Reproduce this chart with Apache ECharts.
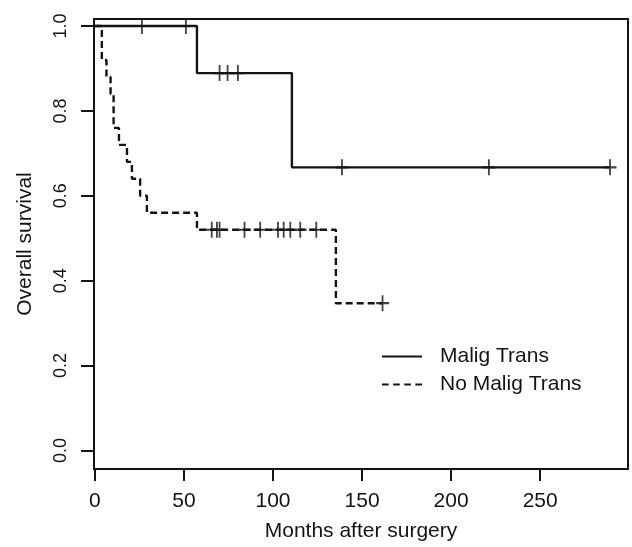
<!DOCTYPE html>
<html>
<head>
<meta charset="utf-8">
<script src="https://cdn.jsdelivr.net/npm/echarts@6/dist/echarts.min.js"></script>
<style>
  html, body { margin: 0; padding: 0; background: #fff; }
  #chart { width: 632px; height: 547px; }
</style>
</head>
<body>
<div id="chart"></div>
<script>
// Kaplan-Meier curves (months, survival)
const maligTimes = [0, 57.3, 110.6, 289.2]
const maligSurv = [1, 0.889, 0.667, 0.667]
const maligCensor = [26.4, 51.1, 70, 74.5, 80.3, 138.7, 221.2, 289.2]

const noMaligTimes = [0, 3.9, 6.5, 8.8, 10.5, 13.5, 18, 20.8, 25.4, 29.2, 57.3, 135.3, 161.5]
const noMaligSurv = [1, 0.92, 0.88, 0.84, 0.76, 0.72, 0.68, 0.64, 0.60, 0.56, 0.52, 0.347, 0.347]
const noMaligCensor = [65.6, 68.5, 70, 84, 92.8, 102.8, 106, 109.7, 115.3, 124.3, 161.5]

const xTicks = [0, 50, 100, 150, 200, 250]
const yTicks = [0, 0.2, 0.4, 0.6, 0.8, 1.0]

const ink = '#141414'
const font = "'Liberation Sans', Arial, sans-serif"

// survival value of a step curve at time t (for placing censor marks on it)
function survAt(times, surv, t) {
  let s = surv[0]
  for (let i = 0; i < times.length; i++) {
    if (times[i] <= t) s = surv[i]
  }
  return s
}

function curve(times, surv) {
  return times.map((t, i) => [t, surv[i]])
}

function marks(times, surv, censor) {
  return censor.map(t => [t, survAt(times, surv, t)])
}

const plusSymbol = 'path://M6,0 L6,16 M0,8 L12,8'
// legend samples: a solid bar and four dashes
const solidIcon = 'path://M0,0 H40 V2.2 H0 Z'
const dashIcon = 'path://M0,0 H6.5 V2.2 H0 Z M11,0 H17.5 V2.2 H11 Z M22,0 H28.5 V2.2 H22 Z M33,0 H39.5 V2.2 H33 Z'

let myChart = echarts.init(document.getElementById('chart'))

let option = {
  animation: false,
  backgroundColor: '#fff',
  textStyle: { fontFamily: font, color: ink },
  grid: {
    left: 94, right: 4, top: 19, bottom: 78,
    show: true, borderColor: ink, borderWidth: 2,
    containLabel: false
  },
  legend: {
    orient: 'vertical',
    left: 377, top: 341,
    itemWidth: 40, itemHeight: 14, itemGap: 7,
    itemStyle: { color: ink },
    data: [
      { name: 'Malig Trans', icon: solidIcon },
      { name: 'No Malig Trans', icon: dashIcon }
    ],
    textStyle: { fontSize: 21, color: ink, fontFamily: font, padding: [0, 0, 0, 13] }
  },
  xAxis: {
    type: 'value',
    min: -0.5, max: 299.3,
    name: 'Months after surgery',
    nameLocation: 'middle',
    nameGap: 52,
    nameTextStyle: { fontSize: 21, color: ink, fontFamily: font },
    axisLine: { show: false, onZero: false },
    splitLine: { show: false },
    axisTick: {
      show: true, inside: false, length: 12, customValues: xTicks,
      lineStyle: { color: ink, width: 2 }
    },
    axisLabel: {
      customValues: xTicks, fontSize: 21, color: ink, margin: 22, fontFamily: font
    }
  },
  yAxis: {
    type: 'value',
    min: -0.0436, max: 1.0165,
    name: 'Overall survival',
    nameLocation: 'middle',
    nameGap: 58,
    nameTextStyle: { fontSize: 21, color: ink, fontFamily: font },
    axisLine: { show: false, onZero: false },
    splitLine: { show: false },
    axisTick: {
      show: true, inside: false, length: 13, customValues: yTicks,
      lineStyle: { color: ink, width: 2 }
    },
    axisLabel: {
      customValues: yTicks, rotate: 90, fontSize: 18, color: ink, margin: 24,
      fontFamily: font,
      formatter: v => v.toFixed(1)
    }
  },
  series: [
    {
      name: 'Malig Trans',
      type: 'line',
      step: 'end',
      symbol: 'none',
      data: curve(maligTimes, maligSurv),
      lineStyle: { color: ink, width: 2.4 },
      itemStyle: { color: ink }
    },
    {
      name: 'No Malig Trans',
      type: 'line',
      step: 'end',
      symbol: 'none',
      data: curve(noMaligTimes, noMaligSurv),
      lineStyle: { color: ink, width: 2.4, type: [7, 4] },
      itemStyle: { color: ink }
    },
    {
      name: 'censor malig',
      type: 'scatter',
      symbol: plusSymbol,
      symbolSize: [13, 16],
      data: marks(maligTimes, maligSurv, maligCensor),
      itemStyle: { color: 'none', borderColor: ink, borderWidth: 2 },
      z: 3
    },
    {
      name: 'censor no malig',
      type: 'scatter',
      symbol: plusSymbol,
      symbolSize: [13, 16],
      data: marks(noMaligTimes, noMaligSurv, noMaligCensor),
      itemStyle: { color: 'none', borderColor: ink, borderWidth: 2 },
      z: 3
    }
  ]
}

myChart.setOption(option)
</script>
</body>
</html>
